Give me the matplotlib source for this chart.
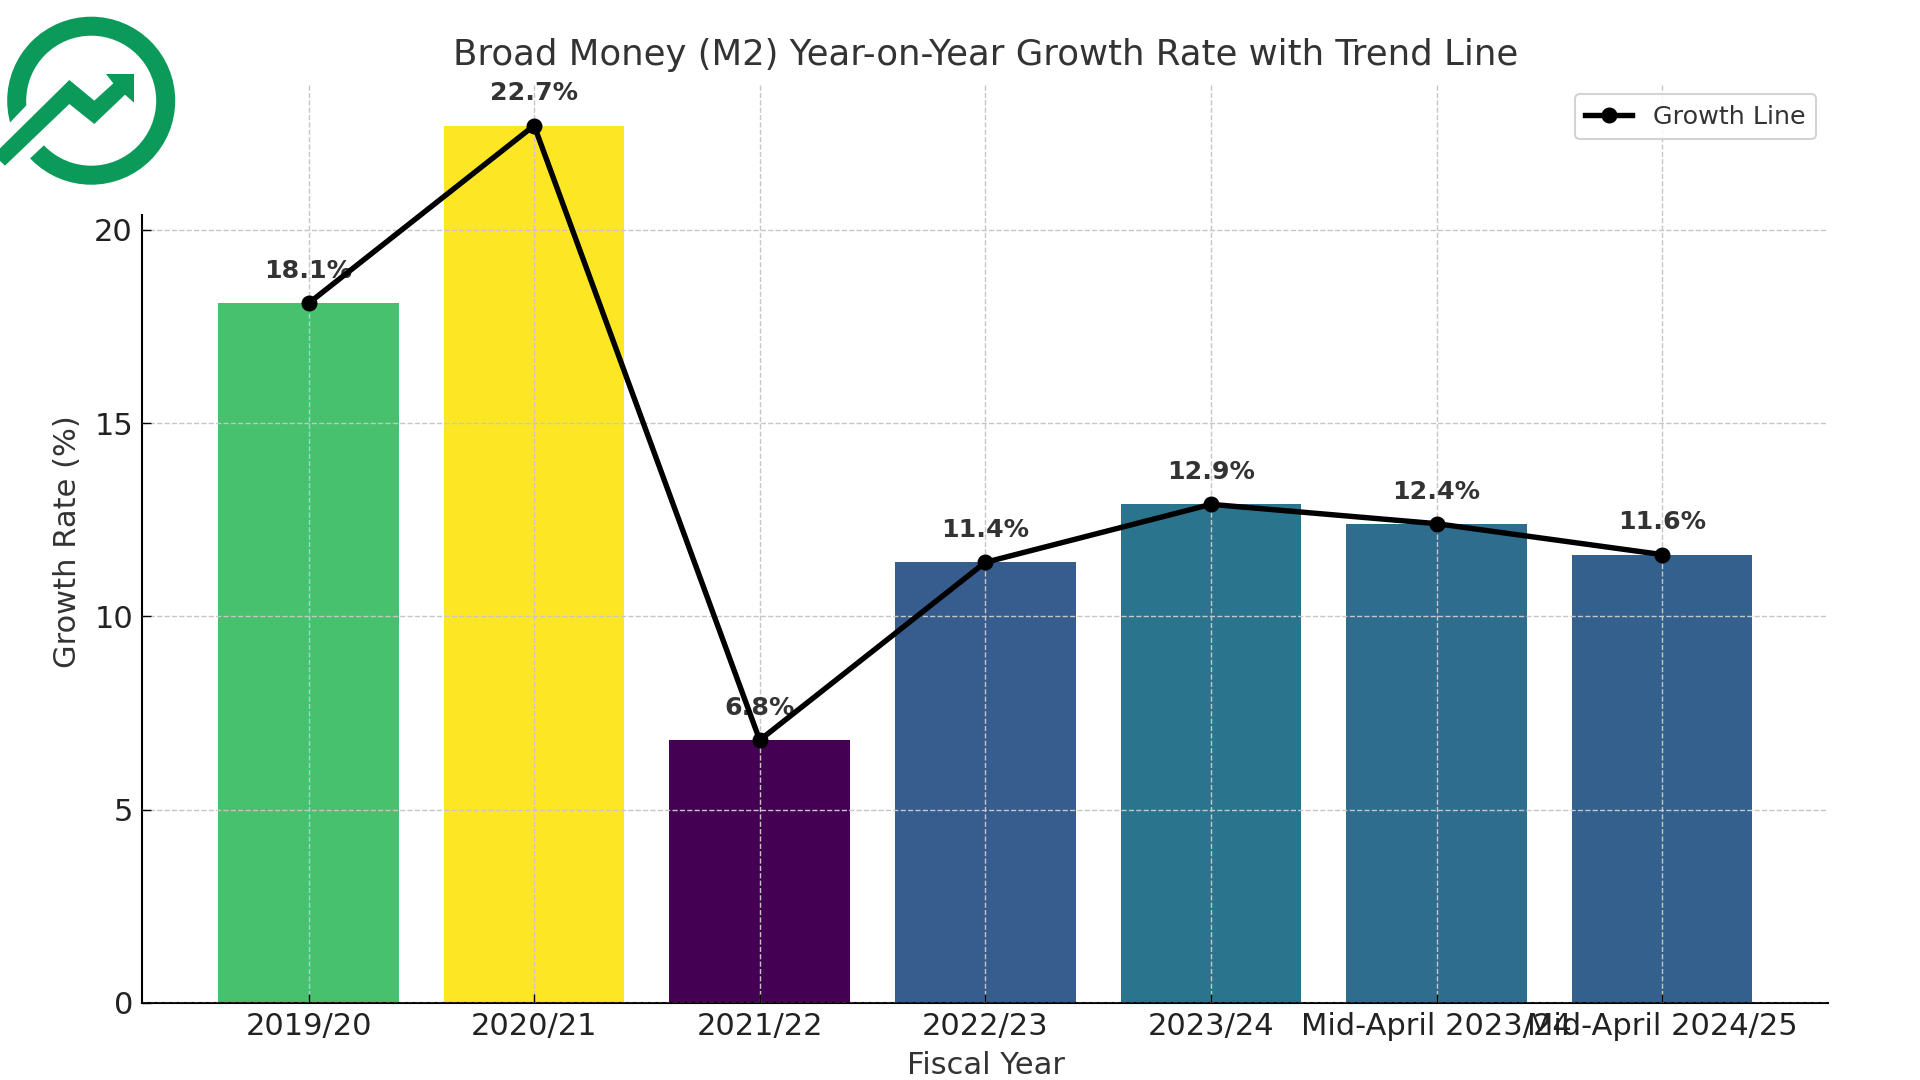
import matplotlib
matplotlib.use('Agg')
import matplotlib.pyplot as plt
from matplotlib.patches import Circle, Polygon

W, H = 1920, 1080

# Data
fiscal_years = ["2019/20", "2020/21", "2021/22", "2022/23", "2023/24",
                "Mid-April 2023/24", "Mid-April 2024/25"]
growth_rates = [18.1, 22.7, 6.8, 11.4, 12.9, 12.4, 11.6]
y_ticks = [0, 5, 10, 15, 20]

TEXT = "#333333"
TICK_TEXT = "#222222"
GREEN = "#0B9A5A"


def draw_logo(fig):
    # Overlay in pixel coordinates, it also hides the axis above the 20 tick
    ov = fig.add_axes([0, 0, 1, 1], zorder=10)
    ov.set_xlim(0, W)
    ov.set_ylim(H, 0)
    ov.axis('off')
    ov.add_patch(plt.Rectangle((0, 0), 200, 214, color='white', lw=0))

    ring = Circle((91.2, 100.7), 74.5, fill=False, ec=GREEN, lw=19 * 72 / 100)
    ov.add_patch(ring)
    # White band that cuts the ring around the arrow tail
    band = [(85, 310), (20, 378), (80, 485), (140, 428)]
    ov.add_patch(Polygon([(x / 3, y / 3) for x, y in band], color='white', lw=0))
    arrow = [(-5, 450), (208, 240), (283, 302), (340, 250), (318, 222), (402, 222),
             (402, 308), (375, 284), (283, 372), (208, 312), (15, 497), (-5, 478)]
    ov.add_patch(Polygon([(x / 3, y / 3) for x, y in arrow], color=GREEN, lw=0))


def main():
    fig = plt.figure(figsize=(W / 100, H / 100), dpi=100)
    ax = fig.add_axes([142 / W, 1 - 1003 / H, (1828 - 142) / W, (1003 - 83) / H])

    positions = list(range(len(fiscal_years)))
    norm = plt.Normalize(min(growth_rates), max(growth_rates))
    colors = [plt.cm.viridis(norm(v)) for v in growth_rates]
    ax.bar(positions, growth_rates, width=0.8, color=colors, zorder=2)
    ax.plot(positions, growth_rates, color='black', lw=3.9, marker='o', ms=10.5,
            label="Growth Line", zorder=5)

    for x, v in zip(positions, growth_rates):
        ax.text(x, v + 0.52, f"{v}%", ha='center', va='bottom', fontsize=18.2,
                fontweight='bold', color=TEXT, zorder=4)

    ax.set_xlim(-0.738, 6.735)
    ax.set_ylim(0, 23.8)
    ax.set_xticks(positions)
    ax.set_xticklabels(fiscal_years)
    ax.set_yticks(y_ticks)
    ax.tick_params(axis='both', direction='in', length=6.5, width=1, labelsize=22,
                   labelcolor=TICK_TEXT, pad=6.5)
    ax.grid(True, linestyle='--', color='#C6C6C6', lw=1, zorder=3)
    ax.set_axisbelow(False)
    for line in ax.get_xgridlines() + ax.get_ygridlines():
        line.set_zorder(3)

    ax.spines['top'].set_visible(False)
    ax.spines['right'].set_visible(False)
    ax.spines['left'].set_linewidth(1.5)
    ax.spines['bottom'].set_linewidth(1.5)

    fig.text(986 / W, 1 - 55 / H, "Broad Money (M2) Year-on-Year Growth Rate with Trend Line",
             ha='center', va='center', fontsize=25.6, color=TEXT)
    fig.text(986 / W, 1 - 1066 / H, "Fiscal Year", ha='center', va='center',
             fontsize=22, color=TEXT)
    fig.text(68 / W, 1 - 542 / H, "Growth Rate (%)", ha='center', va='center',
             rotation=90, fontsize=22, color=TEXT)

    leg = ax.legend(loc='upper right', bbox_to_anchor=(1816 / W, 1 - 94 / H),
                    bbox_transform=fig.transFigure, fontsize=18.3, labelcolor=TEXT,
                    framealpha=0.85, borderaxespad=0, borderpad=0.42, handlelength=1.85)
    leg.get_frame().set_linewidth(1.5)

    draw_logo(fig)
    plt.savefig("out.png", dpi=100)
    plt.close()


main()
